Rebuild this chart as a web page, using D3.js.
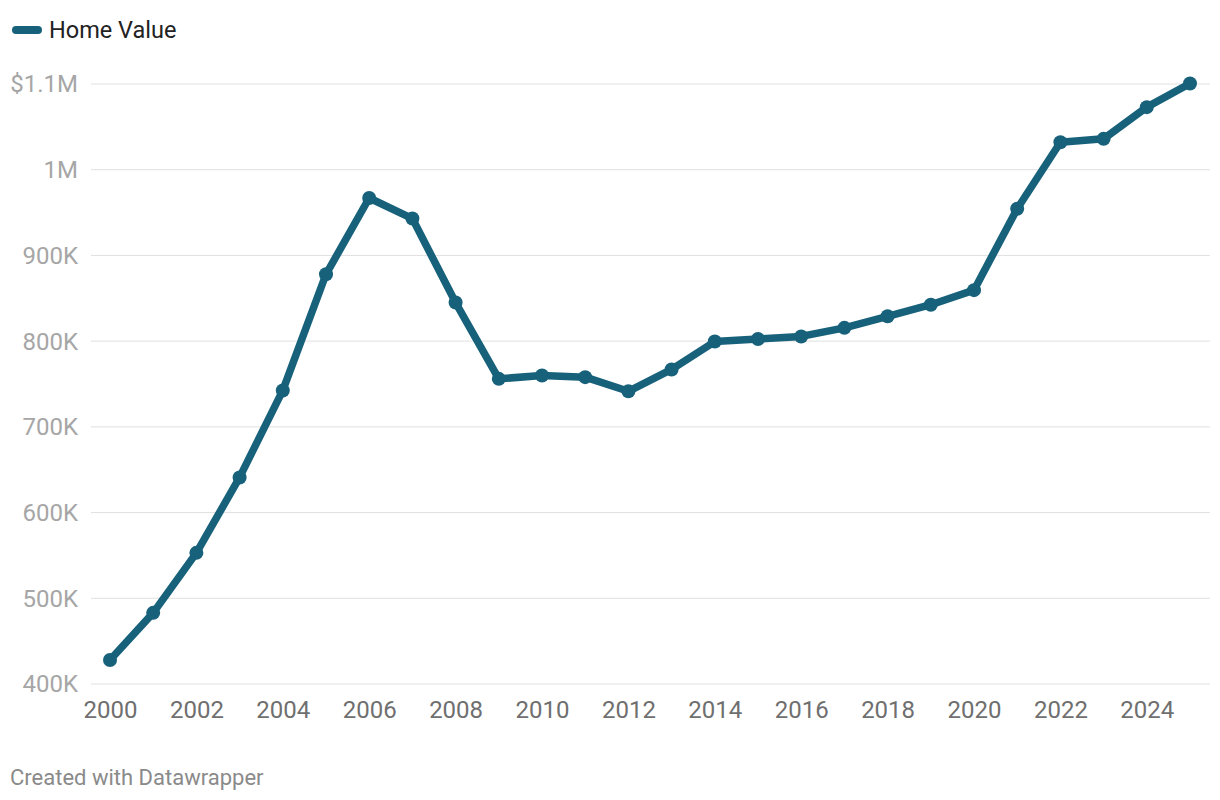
<!DOCTYPE html>
<html>
<head>
<meta charset="utf-8">
<script src="https://cdn.jsdelivr.net/npm/d3@7"></script>
<style>
  body { margin: 0; background: #fff; }
  svg { font-family: Roboto, sans-serif; display: block; }
</style>
</head>
<body>
<div id="chart"></div>
<script>
const years = [2000, 2001, 2002, 2003, 2004, 2005, 2006, 2007, 2008, 2009, 2010, 2011, 2012,
               2013, 2014, 2015, 2016, 2017, 2018, 2019, 2020, 2021, 2022, 2023, 2024, 2025];
const homeValue = [428000, 483000, 553000, 641000, 742500, 878000, 967000, 943000, 845000, 756000,
                   760000, 758000, 741500, 767000, 799500, 802500, 805500, 815500, 829000, 842500,
                   859500, 954500, 1032000, 1036000, 1073000, 1100500];
const yTicks = [400000, 500000, 600000, 700000, 800000, 900000, 1000000, 1100000];
const xTicks = [2000, 2002, 2004, 2006, 2008, 2010, 2012, 2014, 2016, 2018, 2020, 2022, 2024];
const seriesName = "Home Value";

const width = 1220,
      height = 800,
      lineColor = "#17617a";

const data = years.map((y, i) => ({ year: y, value: homeValue[i] }));

const xScale = d3.scaleLinear()
                .domain([2000, 2025])
                .range([110, 1190]);

const yScale = d3.scaleLinear()
                .domain([400000, 1100000])
                .range([684, 84]);

const fmt = (v) => v === 1100000 ? "$1.1M" : v >= 1000000 ? "1M" : (v / 1000) + "K";

let svg = d3.select("#chart")
      .append("svg")
      .attr("width", width)
      .attr("height", height);

// legend
svg.append("line")
  .attr("x1", 16).attr("x2", 38)
  .attr("y1", 30).attr("y2", 30)
  .attr("stroke", lineColor)
  .attr("stroke-width", 8)
  .attr("stroke-linecap", "round");

svg.append("text")
  .attr("x", 49)
  .attr("y", 30)
  .attr("dy", "0.35em")
  .text(seriesName)
  .style("font-size", "23.5px")
  .style("fill", "#222");

// gridlines + y labels
svg.append("g")
  .selectAll("line")
  .data(yTicks)
  .enter()
  .append("line")
  .attr("x1", 91)
  .attr("x2", 1210)
  .attr("y1", (d) => yScale(d))
  .attr("y2", (d) => yScale(d))
  .attr("stroke", "#e0e0e0")
  .attr("stroke-width", 1);

svg.append("g")
  .selectAll("text")
  .data(yTicks)
  .enter()
  .append("text")
  .attr("x", 78)
  .attr("y", (d) => yScale(d))
  .attr("dy", "0.35em")
  .attr("text-anchor", "end")
  .text(fmt)
  .style("font-size", "24px")
  .style("fill", "#a6a6a6");

// x axis labels
let xAxis = d3.axisBottom(xScale)
  .tickValues(xTicks)
  .tickFormat(d3.format("d"))
  .tickSize(0)
  .tickPadding(0);

let gx = svg.append("g")
  .attr("transform", "translate(0, 710)")
  .call(xAxis);

gx.select(".domain").remove();
gx.selectAll("text")
  .attr("dy", "0.35em")
  .style("font-family", "Roboto, sans-serif")
  .style("font-size", "24px")
  .style("fill", "#6f6f6f");

// line + dots
const line = d3.line()
  .x((d) => xScale(d.year))
  .y((d) => yScale(d.value));

svg.append("path")
  .datum(data)
  .attr("d", line)
  .attr("fill", "none")
  .attr("stroke", lineColor)
  .attr("stroke-width", 7.5)
  .attr("stroke-linejoin", "round")
  .attr("stroke-linecap", "round");

svg.append("g")
  .selectAll("circle")
  .data(data)
  .enter()
  .append("circle")
  .attr("cx", (d) => xScale(d.year))
  .attr("cy", (d) => yScale(d.value))
  .attr("r", 7)
  .attr("fill", lineColor);

// footer
svg.append("text")
  .attr("x", 10)
  .attr("y", 777)
  .attr("dy", "0.35em")
  .text("Created with Datawrapper")
  .style("font-size", "22px")
  .style("fill", "#8a8a8a");
</script>
</body>
</html>
